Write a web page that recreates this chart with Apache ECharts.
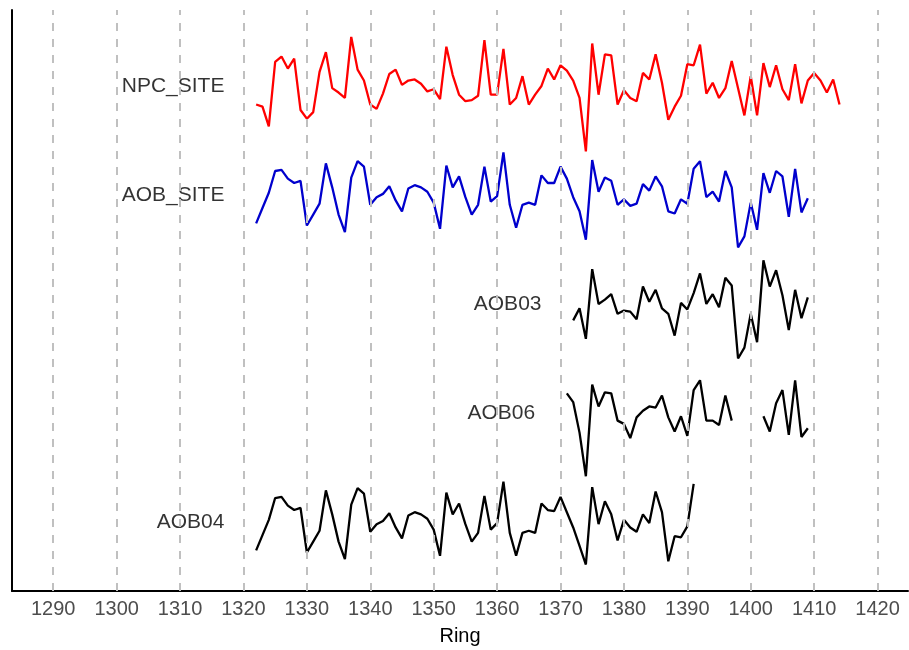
<!DOCTYPE html>
<html style="height: 100%">
<head>
<meta charset="utf-8">
</head>
<body style="height: 100%; margin: 0; background: #fff">
<div id="container" style="width: 909px; height: 650px"></div>
<script src="https://cdn.jsdelivr.net/npm/echarts@6/dist/echarts.min.js"></script>
<script type="text/javascript">
// ring-width index per year
var tickYears = [1290, 1300, 1310, 1320, 1330, 1340, 1350, 1360, 1370, 1380, 1390, 1400, 1410, 1420];

var seriesNames = ['AOB04', 'AOB06', 'AOB03', 'AOB_SITE', 'NPC_SITE'];
var seriesColors = ['#000000', '#000000', '#000000', '#0000cd', '#ff0000'];
var startYears = [1322, 1371, 1372, 1322, 1322];

var npcSite = [
  0.83, 0.81, 0.63, 1.22, 1.27, 1.16, 1.25, 0.78, 0.70, 0.76,
  1.13, 1.31, 0.98, 0.94, 0.89, 1.45, 1.15, 1.05, 0.83, 0.79,
  0.93, 1.11, 1.15, 1.01, 1.05, 1.06, 1.02, 0.95, 0.97, 0.88,
  1.36, 1.10, 0.92, 0.86, 0.87, 0.91, 1.42, 0.92, 0.92, 1.34,
  0.83, 0.89, 1.09, 0.83, 0.92, 1.00, 1.16, 1.06, 1.19, 1.14,
  1.05, 0.89, 0.40, 1.39, 0.92, 1.29, 1.28, 0.83, 0.96, 0.89,
  0.86, 1.12, 1.06, 1.29, 1.03, 0.69, 0.81, 0.91, 1.20, 1.19,
  1.38, 0.93, 1.03, 0.89, 0.98, 1.23, 0.98, 0.73, 1.09, 0.73,
  1.21, 0.99, 1.19, 0.97, 0.87, 1.20, 0.84, 1.05, 1.12, 1.05,
  0.94, 1.06, 0.83
];

var aobSite = [
  0.74, 0.88, 1.02, 1.22, 1.23, 1.15, 1.11, 1.13, 0.72, 0.82,
  0.92, 1.29, 1.07, 0.82, 0.66, 1.16, 1.31, 1.26, 0.91, 0.98,
  1.01, 1.08, 0.95, 0.85, 1.06, 1.09, 1.07, 1.03, 0.93, 0.69,
  1.27, 1.07, 1.17, 0.98, 0.82, 0.91, 1.26, 0.94, 0.99, 1.39,
  0.91, 0.70, 0.91, 0.93, 0.91, 1.18, 1.11, 1.11, 1.26, 1.15,
  0.98, 0.85, 0.59, 1.32, 1.03, 1.16, 1.13, 0.91, 0.96, 0.90,
  0.92, 1.10, 1.04, 1.17, 1.08, 0.85, 0.83, 0.96, 0.92, 1.24,
  1.31, 0.98, 1.03, 0.94, 1.22, 1.07, 0.52, 0.62, 0.93, 0.68,
  1.20, 1.02, 1.22, 1.17, 0.80, 1.24, 0.84, 0.97
];

var aob03 = [
  0.85, 0.96, 0.68, 1.32, 1.00, 1.04, 1.09, 0.91, 0.94, 0.93,
  0.86, 1.16, 1.02, 1.13, 0.96, 0.91, 0.71, 1.01, 0.95, 1.10,
  1.28, 1.00, 1.09, 0.97, 1.24, 1.17, 0.50, 0.60, 0.91, 0.65,
  1.40, 1.16, 1.31, 1.08, 0.76, 1.13, 0.87, 1.06
];

var aob06 = [
  1.18, 1.10, 0.82, 0.42, 1.26, 1.06, 1.19, 1.18, 0.93, 0.90,
  0.77, 0.96, 1.02, 1.06, 1.05, 1.16, 0.96, 0.83, 0.97, 0.79,
  1.21, 1.30, 0.93, 0.93, 0.89, 1.16, 0.93, null, null, null,
  null, 0.97, 0.83, 1.09, 1.21, 0.80, 1.30, 0.78, 0.86
];

var aob04 = [
  0.74, 0.88, 1.02, 1.22, 1.23, 1.15, 1.11, 1.13, 0.72, 0.82,
  0.92, 1.29, 1.07, 0.82, 0.66, 1.16, 1.31, 1.26, 0.91, 0.98,
  1.01, 1.08, 0.95, 0.85, 1.06, 1.09, 1.07, 1.03, 0.93, 0.69,
  1.27, 1.07, 1.17, 0.98, 0.82, 0.90, 1.24, 0.93, 0.99, 1.37,
  0.90, 0.69, 0.90, 0.92, 0.90, 1.17, 1.11, 1.10, 1.23, 1.09,
  0.95, 0.78, 0.61, 1.32, 0.98, 1.19, 1.07, 0.83, 1.02, 0.95,
  0.91, 1.07, 0.99, 1.28, 1.09, 0.64, 0.87, 0.86, 0.96, 1.35
];

var seriesValues = [aob04, aob06, aob03, aobSite, npcSite];

var FONT = "'Liberation Sans', Arial, sans-serif";
var dom = document.getElementById('container');
var myChart = echarts.init(dom);

var seriesList = [];

// dashed vertical guides at each labelled year
seriesList.push({
  type: 'line',
  data: [],
  z: 1,
  silent: true,
  markLine: {
    silent: true,
    animation: false,
    symbol: ['none', 'none'],
    label: { show: false },
    lineStyle: { color: '#c0c0c0', type: [8, 8], width: 2 },
    data: tickYears.map(function (y) { return { xAxis: y }; })
  }
});

var labelData = [];
seriesNames.forEach(function (name, k) {
  var vals = seriesValues[k];
  var pts = [];
  for (var i = 0; i < vals.length; i++) {
    pts.push([startYears[k] + i, vals[i] == null ? null : vals[i] + k]);
  }
  seriesList.push({
    type: 'line',
    name: name,
    data: pts,
    showSymbol: false,
    z: 3,
    lineStyle: { color: seriesColors[k], width: 2.3 },
    itemStyle: { color: seriesColors[k] }
  });
  labelData.push({ name: name, value: [startYears[k] - 5, k + 1] });
});

// series names, to the left of each curve
seriesList.push({
  type: 'scatter',
  data: labelData,
  symbolSize: 0,
  silent: true,
  itemStyle: { color: '#000' },
  label: {
    show: true,
    position: 'left',
    distance: 0,
    formatter: '{b}',
    color: '#000',
    textBorderWidth: 0,
    fontSize: 21,
    fontFamily: FONT
  }
});

var option = {
  animation: false,
  backgroundColor: '#fff',
  grid: { left: 12, right: 1, top: 10, bottom: 59, outerBoundsMode: 'none' },
  xAxis: {
    type: 'value',
    min: 1283.5,
    max: 1424.8,
    name: 'Ring',
    nameLocation: 'middle',
    nameGap: 35,
    nameTextStyle: { color: '#000', fontSize: 20, fontFamily: FONT },
    axisLine: { show: true, onZero: false, lineStyle: { color: '#000', width: 2 } },
    axisTick: { show: false },
    splitLine: { show: false },
    axisLabel: {
      customValues: tickYears,
      formatter: function (v) { return String(v); },
      color: '#4d4d4d',
      fontSize: 20,
      fontFamily: FONT,
      margin: 8
    }
  },
  yAxis: {
    type: 'value',
    min: 0.367,
    max: 5.697,
    axisLine: { show: true, lineStyle: { color: '#000', width: 2 } },
    axisTick: { show: false },
    axisLabel: { show: false },
    splitLine: { show: false }
  },
  series: seriesList
};

myChart.setOption(option);
</script>
</body>
</html>
